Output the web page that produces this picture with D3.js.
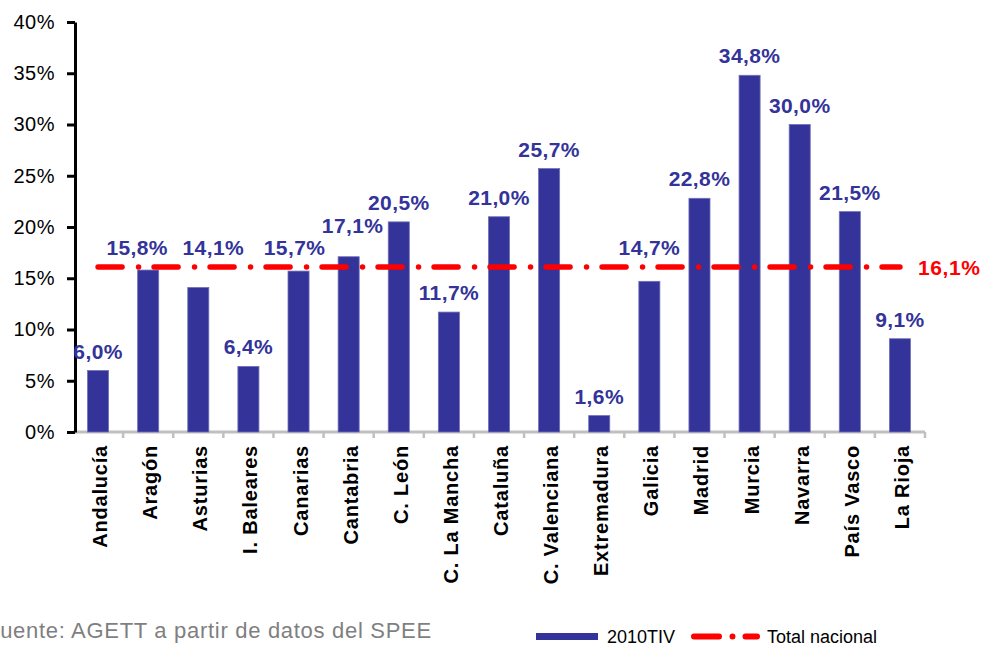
<!DOCTYPE html>
<html>
<head>
<meta charset="utf-8">
<script src="https://cdn.jsdelivr.net/npm/d3@7"></script>
<style>
  body { margin: 0; background: #fff; }
  svg { display: block; font-family: Arial, "Liberation Sans", sans-serif; }
</style>
</head>
<body>
<svg width="986" height="646"></svg>
<script>
// paro registrado, variación interanual por comunidad
var regions = ["Andalucía", "Aragón", "Asturias", "I. Baleares", "Canarias", "Cantabria",
  "C. León", "C. La Mancha", "Cataluña", "C. Valenciana", "Extremadura", "Galicia",
  "Madrid", "Murcia", "Navarra", "País Vasco", "La Rioja"];
var values2010TIV = [6.0, 15.8, 14.1, 6.4, 15.7, 17.1, 20.5, 11.7, 21.0, 25.7, 1.6, 14.7,
  22.8, 34.8, 30.0, 21.5, 9.1];
var totalNacional = 16.1;
var yTicks = [0, 5, 10, 15, 20, 25, 30, 35, 40];

// etiquetas movidas a mano en el original (dx, dy en px)
var labelNudge = {"Aragón": [-11, 0], "Asturias": [15, 0], "Canarias": [-4, 0], "Cantabria": [4, -12]};

var svg = d3.select("svg");
var blue = "#333399", red = "#ff0000";
var fmt = function(v) { return v.toFixed(1).replace(".", ",") + "%"; };

var x = d3.scaleBand()
    .domain(regions)
    .range([73, 925])
    .paddingInner(0.58)
    .paddingOuter(0.29);

var y = d3.scaleLinear()
    .domain([0, 40])
    .range([432, 22]);

var cx = function(d) { return x(d) + x.bandwidth() / 2; };
var dash = "24,16.5,0,15.5";

// eje x gris con marcas entre categorias
var bounds = regions.map(function(d) { return cx(d) - x.step() / 2; });
bounds.push(cx(regions[regions.length - 1]) + x.step() / 2);

svg.append("line")
    .attr("x1", 73).attr("x2", 925)
    .attr("y1", y(0)).attr("y2", y(0))
    .attr("stroke", "#c0c0c0").attr("stroke-width", 3);

svg.append("g").selectAll("line").data(bounds.slice(1)).enter().append("line")
    .attr("x1", function(d) { return d; }).attr("x2", function(d) { return d; })
    .attr("y1", y(0)).attr("y2", y(0) + 6)
    .attr("stroke", "#c0c0c0").attr("stroke-width", 2.5);

// eje y
var yAxis = svg.append("g")
    .attr("transform", "translate(75,0)")
    .call(d3.axisLeft(y).tickValues(yTicks).tickSize(8).tickSizeOuter(0)
      .tickFormat(function(d) { return d + "%"; }));
yAxis.select(".domain").attr("stroke", "#000").attr("stroke-width", 3);
yAxis.selectAll(".tick line").attr("stroke", "#000").attr("stroke-width", 3);
yAxis.selectAll(".tick text")
    .attr("x", -20)
    .attr("font-size", 20)
    .attr("letter-spacing", 0.5)
    .attr("font-family", "Arial, 'Liberation Sans', sans-serif")
    .attr("fill", "#000");

// barras
svg.append("g").selectAll("rect").data(values2010TIV).enter().append("rect")
    .attr("x", function(d, i) { return x(regions[i]); })
    .attr("width", x.bandwidth())
    .attr("y", function(d) { return y(d); })
    .attr("height", function(d) { return y(0) - y(d); })
    .attr("fill", blue)
    .attr("stroke", "#7070b8")
    .attr("stroke-width", 0.8);

// linea total nacional
var lineY = y(totalNacional);
svg.append("line")
    .attr("x1", cx(regions[0]))
    .attr("x2", cx(regions[regions.length - 1]))
    .attr("y1", lineY).attr("y2", lineY)
    .attr("stroke", red).attr("stroke-width", 5.5)
    .attr("stroke-linecap", "round")
    .attr("stroke-dasharray", dash);

svg.append("text")
    .attr("x", 918).attr("y", lineY + 8)
    .attr("font-size", 21).attr("font-weight", "bold")
    .attr("letter-spacing", 0.6)
    .attr("fill", red)
    .text(fmt(totalNacional));

// etiquetas de valor (subidas si chocan con la linea)
function nudge(i) { return labelNudge[regions[i]] || [0, 0]; }
svg.append("g").selectAll("text").data(values2010TIV).enter().append("text")
    .attr("x", function(d, i) { return cx(regions[i]) + nudge(i)[0]; })
    .attr("y", function(d, i) {
      var b = y(d) - 12;
      if (b > lineY - 12 && b - 16 < lineY + 4) b = lineY - 12;
      return b + nudge(i)[1];
    })
    .attr("text-anchor", "middle")
    .attr("font-size", 21).attr("font-weight", "bold")
    .attr("letter-spacing", 0.4)
    .attr("fill", blue)
    .text(fmt);

// etiquetas del eje x
svg.append("g").selectAll("text").data(regions).enter().append("text")
    .attr("transform", function(d) { return "translate(" + (cx(d) + 9) + ",445) rotate(-90)"; })
    .attr("text-anchor", "end")
    .attr("font-size", 20).attr("font-weight", "bold")
    .attr("letter-spacing", 0.8)
    .attr("fill", "#000")
    .text(function(d) { return d; });

// fuente
svg.append("text")
    .attr("x", -14).attr("y", 638)
    .attr("font-size", 22).attr("letter-spacing", 0.7)
    .attr("fill", "#7f7f7f")
    .text("Fuente: AGETT a partir de datos del SPEE");

// leyenda
var legend = svg.append("g");
legend.append("rect")
    .attr("x", 536).attr("y", 633).attr("width", 62).attr("height", 7)
    .attr("fill", blue);
legend.append("text")
    .attr("x", 607).attr("y", 643)
    .attr("font-size", 18)
    .text("2010TIV");
legend.append("line")
    .attr("x1", 694).attr("x2", 757)
    .attr("y1", 636.5).attr("y2", 636.5)
    .attr("stroke", red).attr("stroke-width", 6)
    .attr("stroke-linecap", "round")
    .attr("stroke-dasharray", "25,13.5,0,13");
legend.append("text")
    .attr("x", 767).attr("y", 643)
    .attr("font-size", 18)
    .text("Total nacional");
</script>
</body>
</html>
